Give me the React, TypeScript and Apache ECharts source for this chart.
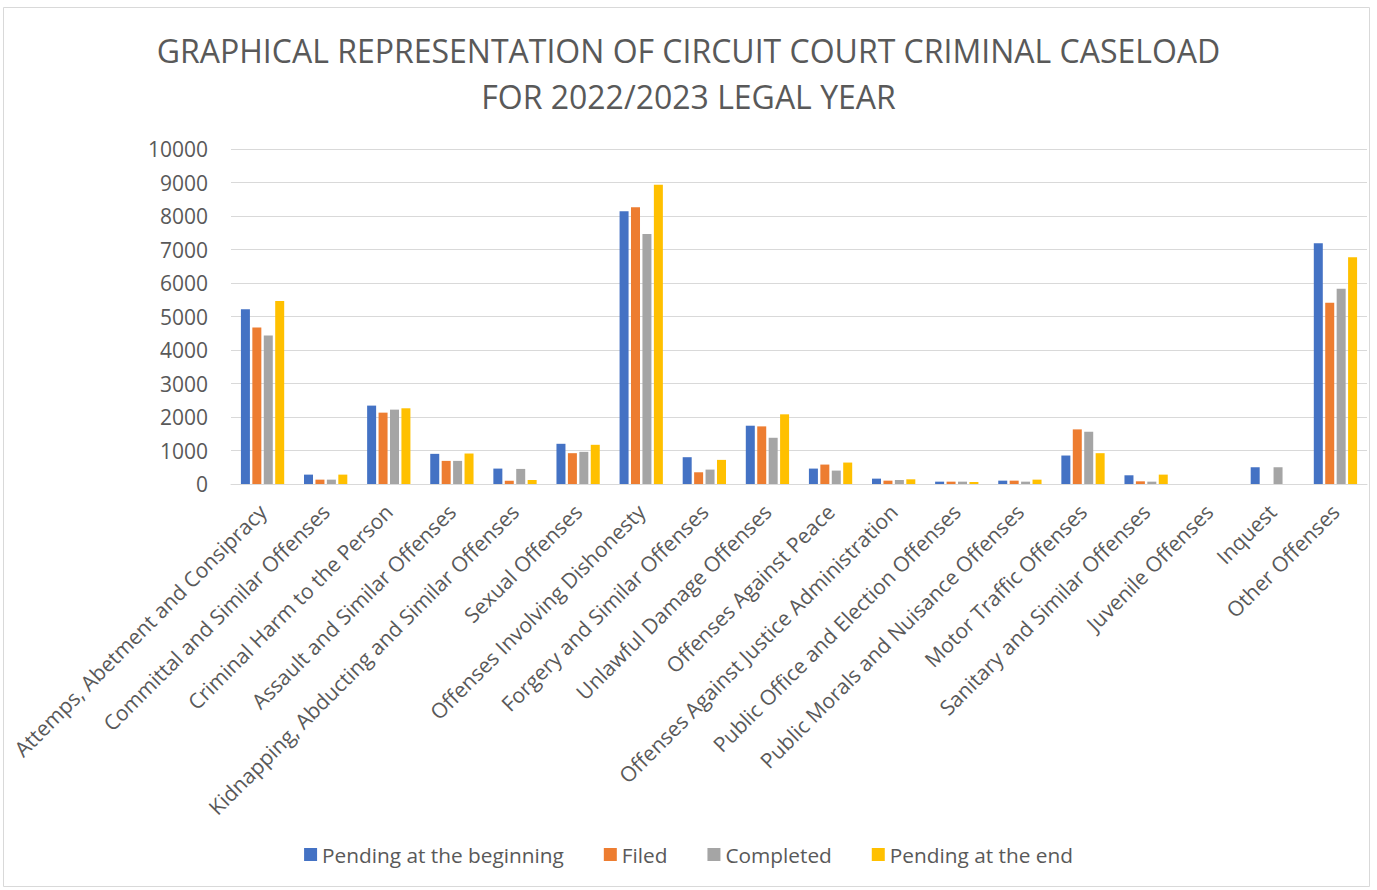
import React, { useEffect, useRef } from "react";
import * as echarts from "echarts";

const categories = [
  "Attemps, Abetment and Consipracy",
  "Committal and Similar Offenses",
  "Criminal Harm to the Person",
  "Assault and Similar Offenses",
  "Kidnapping, Abducting and Similar Offenses",
  "Sexual Offenses",
  "Offenses Involving Dishonesty",
  "Forgery and Similar Offenses",
  "Unlawful Damage Offenses",
  "Offenses Against Peace",
  "Offenses Against Justice Administration",
  "Public Office and Election Offenses",
  "Public Morals and Nuisance Offenses",
  "Motor Traffic Offenses",
  "Sanitary and Similar Offenses",
  "Juvenile Offenses",
  "Inquest",
  "Other Offenses",
];

const pendingBeginning = [5220, 280, 2340, 900, 460, 1200, 8140, 800, 1740, 460, 160, 70, 100, 850, 260, 0, 500, 7190];
const filed = [4670, 130, 2130, 690, 100, 920, 8260, 350, 1720, 580, 100, 70, 100, 1630, 80, 0, 0, 5410];
const completed = [4430, 130, 2220, 690, 450, 960, 7460, 430, 1380, 400, 120, 70, 70, 1560, 70, 0, 500, 5830];
const pendingEnd = [5460, 280, 2260, 910, 120, 1170, 8930, 720, 2080, 640, 140, 60, 130, 920, 280, 0, 0, 6770];

const seriesNames = ["Pending at the beginning", "Filed", "Completed", "Pending at the end"];
const seriesColors = ["#4472C4", "#ED7D31", "#A5A5A5", "#FFC000"];
const titleLines = [
  "GRAPHICAL REPRESENTATION OF CIRCUIT COURT CRIMINAL CASELOAD",
  "FOR 2022/2023 LEGAL YEAR",
];

const FONT = "'Open Sans', 'Noto Sans', sans-serif";
const TXT = "#595959";

export default function App() {
  const ref = useRef<HTMLDivElement>(null);
  useEffect(() => {
    document.body.style.margin = "0";
    const chart = echarts.init(ref.current!, undefined, { renderer: "svg" });
    const data = [pendingBeginning, filed, completed, pendingEnd];
    chart.setOption({
      animation: false,
      backgroundColor: "#ffffff",
      textStyle: { fontFamily: FONT },
      title: {
        text: titleLines.join("\n"),
        left: "center",
        top: 22,
        textStyle: { fontFamily: FONT, fontSize: 32, fontWeight: "normal", color: TXT, lineHeight: 46 },
      },
      graphic: [
        {
          type: "rect",
          shape: { x: 3.5, y: 7.5, width: 1366, height: 879 },
          style: { fill: "none", stroke: "#d9d9d9", lineWidth: 1 },
          silent: true,
        },
      ],
      legend: {
        bottom: 20,
        left: "center",
        itemWidth: 13,
        itemHeight: 13,
        itemGap: 40,
        icon: "rect",
        textStyle: { fontFamily: FONT, fontSize: 20.8, color: TXT },
        data: seriesNames,
      },
      grid: { left: 231, right: 10, top: 149, bottom: 406, containLabel: false },
      xAxis: {
        type: "category",
        data: categories,
        axisLine: { lineStyle: { color: "#d9d9d9", width: 1 } },
        axisTick: { show: false },
        axisLabel: {
          rotate: 45,
          interval: 0,
          margin: 24,
          fontFamily: FONT,
          fontSize: 21,
          color: TXT,
        },
      },
      yAxis: {
        type: "value",
        min: 0,
        max: 10000,
        interval: 1000,
        axisLine: { show: false },
        axisTick: { show: false },
        splitLine: { lineStyle: { color: "#d9d9d9", width: 1 } },
        axisLabel: {
          fontFamily: FONT,
          fontSize: 21,
          color: TXT,
          margin: 23,
          formatter: (v: number) => String(v),
        },
      },
      series: seriesNames.map((name, i) => ({
        name,
        type: "bar",
        data: data[i],
        barWidth: 9,
        barGap: "27%",
        itemStyle: { color: seriesColors[i] },
      })),
    });
    return () => chart.dispose();
  }, []);
  return <div ref={ref} style={{ width: 1377, height: 890 }} />;
}
